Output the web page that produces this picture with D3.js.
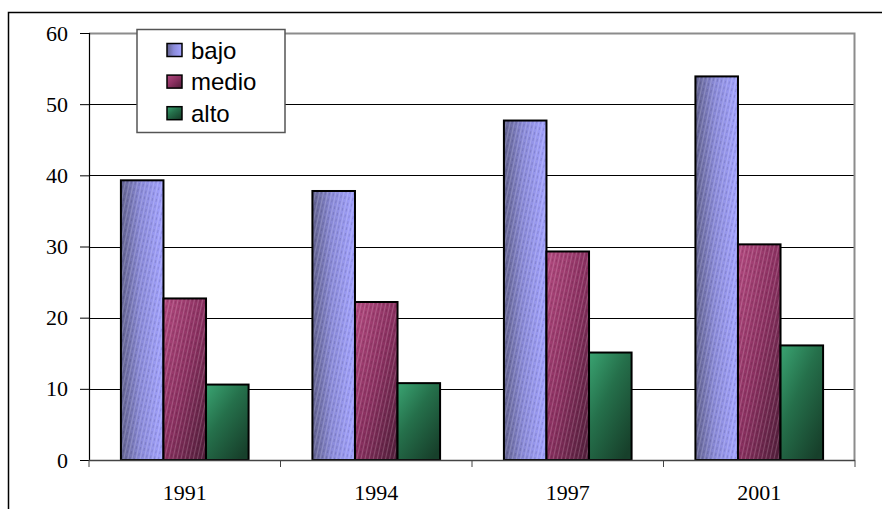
<!DOCTYPE html>
<html><head><meta charset="utf-8">
<script src="https://cdn.jsdelivr.net/npm/d3@7"></script>
<style>html,body{margin:0;padding:0;background:#fff;}svg{display:block;}</style>
</head><body>
<script>
const categories = ["1991", "1994", "1997", "2001"];
const seriesNames = ["bajo", "medio", "alto"];
const bajo  = [39.3, 37.8, 47.7, 53.9];
const medio = [22.7, 22.2, 29.3, 30.3];
const alto  = [10.6, 10.8, 15.1, 16.1];
const yTicks = [0, 10, 20, 30, 40, 50, 60];

const seriesValues = [bajo, medio, alto];
const W = 882, H = 509;
const svg = d3.select("body").append("svg").attr("width", W).attr("height", H);

const defs = svg.append("defs");
function grad(id, stops, x1, y1, x2, y2) {
  const g = defs.append("linearGradient").attr("id", id)
    .attr("x1", x1).attr("y1", y1).attr("x2", x2).attr("y2", y2);
  stops.forEach(s => g.append("stop").attr("offset", s[0]).attr("stop-color", s[1]));
}
grad("gBajo", [[0, "#62628f"], [0.45, "#8a8ad8"], [1, "#a3a3ff"]], "0", "0", "1", "0");
grad("gMedio", [[0, "#b34a80"], [0.5, "#8a3060"], [1, "#4e1d38"]], "0", "0", "1", "1");
grad("gAlto", [[0, "#3aa472"], [0.45, "#25704b"], [1, "#17402b"]], "0", "0", "0.8", "1");
const pat = defs.append("pattern").attr("id", "tex").attr("patternUnits", "userSpaceOnUse")
  .attr("width", 4).attr("height", 6).attr("patternTransform", "rotate(12)");
pat.append("rect").attr("x", 0).attr("y", 0).attr("width", 1).attr("height", 6).attr("fill", "#ffffff").attr("opacity", 0.18);
pat.append("rect").attr("x", 2).attr("y", 0).attr("width", 1).attr("height", 3).attr("fill", "#000000").attr("opacity", 0.12);
const fills = ["url(#gBajo)", "url(#gMedio)", "url(#gAlto)"];
const textured = [true, true, false];

// outer frame
svg.append("rect").attr("x", 8.5).attr("y", 12.5).attr("width", W).attr("height", H)
  .attr("fill", "none").attr("stroke", "#000").attr("stroke-width", 1.5);

const pL = 89, pR = 855, pT = 33, pB = 460;
const x = d3.scaleBand().domain(categories).range([pL, pR]).paddingInner(0).paddingOuter(0);
const y = d3.scaleLinear().domain([0, 60]).range([pB, pT]);
// gap width 150%: bandwidth = 3w + 1.5w
const barW = x.bandwidth() / 4.5;
const groupOff = 0.75 * barW;

// gridlines
svg.append("g").selectAll("line").data(yTicks.filter(t => t > 0 && t < 60)).join("line")
  .attr("x1", pL).attr("x2", pR).attr("y1", d => Math.round(y(d)) + 0.5).attr("y2", d => Math.round(y(d)) + 0.5)
  .attr("stroke", "#000").attr("stroke-width", 1);

// plot border (top/right gray)
svg.append("path").attr("d", `M${pL},${pT + 0.5}H${pR - 0.5}V${pB}`)
  .attr("fill", "none").attr("stroke", "#8c8c8c").attr("stroke-width", 2);

// bars
const bars = svg.append("g");
categories.forEach((c, ci) => {
  seriesNames.forEach((s, si) => {
    const v = seriesValues[si][ci];
    const bx = x(c) + groupOff + si * barW;
    bars.append("rect").attr("x", bx).attr("y", y(v)).attr("width", barW).attr("height", pB - y(v))
      .attr("fill", fills[si]);
    bars.append("rect").attr("x", bx).attr("y", y(v)).attr("width", barW).attr("height", pB - y(v))
      .attr("fill", textured[si] ? "url(#tex)" : "none").attr("stroke", "#000").attr("stroke-width", 2);
  });
});

const serif = "'Liberation Serif', 'Times New Roman', serif";
// y axis
const yAxis = svg.append("g").attr("transform", `translate(${pL},0)`)
  .call(d3.axisLeft(y).tickValues(yTicks).tickSize(9).tickPadding(12).tickFormat(d3.format("d")));
yAxis.select(".domain").attr("stroke", "#000").attr("stroke-width", 1.2);
yAxis.selectAll(".tick line").attr("stroke", "#000");
yAxis.selectAll("text").attr("font-family", serif).attr("font-size", 22).attr("fill", "#000");

// x axis
const xAxis = svg.append("g").attr("transform", `translate(0,${pB})`)
  .call(d3.axisBottom(x).tickSize(0).tickPadding(24));
xAxis.select(".domain").remove();
svg.append("line").attr("x1", pL).attr("x2", pR).attr("y1", pB + 0.5).attr("y2", pB + 0.5)
  .attr("stroke", "#444").attr("stroke-width", 1.5);
const bounds = categories.map(c => x(c)).concat([pR]);
svg.append("g").selectAll("line").data(bounds).join("line")
  .attr("x1", d => d).attr("x2", d => d).attr("y1", pB).attr("y2", pB + 7)
  .attr("stroke", "#444").attr("stroke-width", 1);
xAxis.selectAll("text").attr("font-family", serif).attr("font-size", 22).attr("fill", "#000");

// legend
const lg = svg.append("g");
lg.append("rect").attr("x", 137).attr("y", 29.5).attr("width", 148).attr("height", 103)
  .attr("fill", "#fff").attr("stroke", "#555").attr("stroke-width", 1.5);
seriesNames.forEach((s, i) => {
  const cy = 50 + i * 31.6;
  lg.append("rect").attr("x", 167).attr("y", cy - 6.5).attr("width", 15).attr("height", 13)
    .attr("fill", fills[i]).attr("stroke", "#000").attr("stroke-width", 1.5);
  lg.append("text").attr("x", 191).attr("y", cy).attr("dy", "0.36em")
    .attr("font-family", "'Liberation Sans', Arial, sans-serif").attr("font-size", 24)
    .text(s);
});
</script>
</body></html>
